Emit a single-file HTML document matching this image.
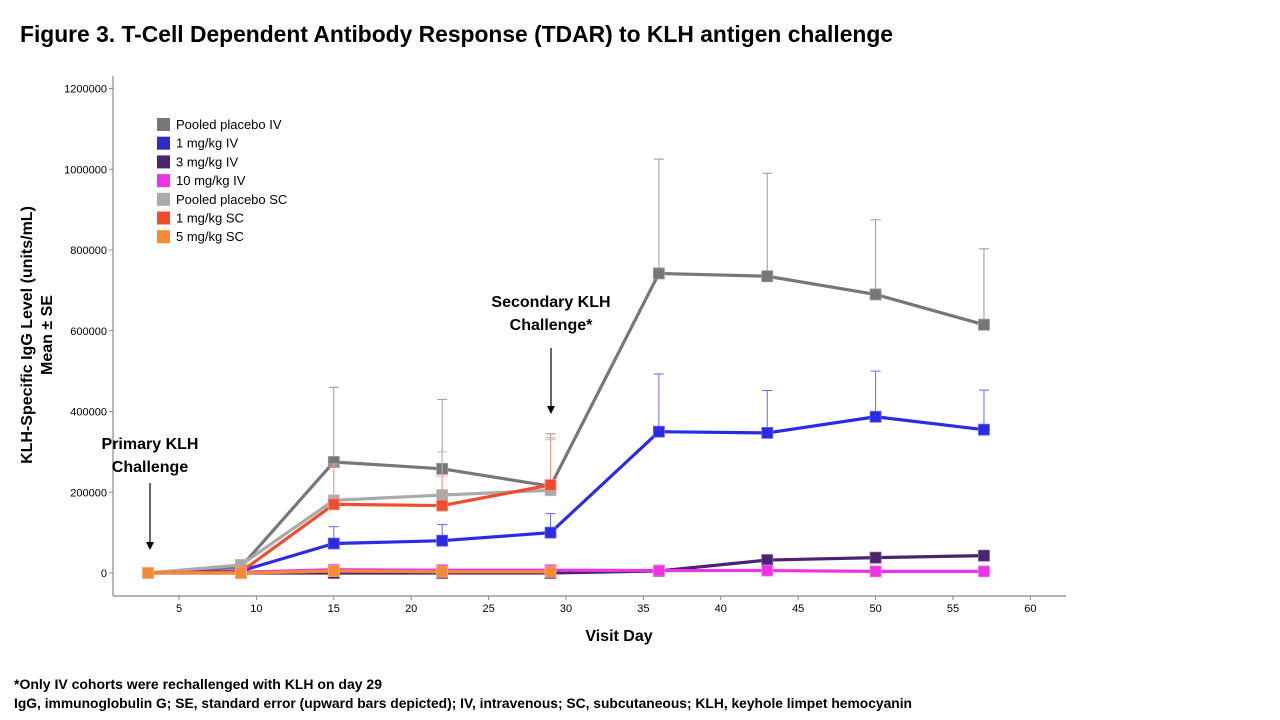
<!DOCTYPE html>
<html><head><meta charset="utf-8"><style>
body{margin:0;background:#fff}
svg{display:block;font-family:"Liberation Sans Narrow","Liberation Sans",sans-serif}
</style></head><body>
<svg id="chart" width="1280" height="720" viewBox="0 0 1280 720" xmlns="http://www.w3.org/2000/svg">
<text x="20" y="42" font-size="23" font-weight="bold" font-family="Liberation Sans, sans-serif" textLength="873" lengthAdjust="spacingAndGlyphs">Figure 3. T-Cell Dependent Antibody Response (TDAR) to KLH antigen challenge</text>
<g id="grid"></g>
<g id="axes"></g>
<g id="series"></g>
<g id="legend"></g>
<text transform="translate(32,335) rotate(-90)" text-anchor="middle" font-size="16" font-weight="bold">KLH-Specific IgG Level (units/mL)</text>
<text transform="translate(52,335) rotate(-90)" text-anchor="middle" font-size="16" font-weight="bold">Mean ± SE</text>
<text x="619" y="641" text-anchor="middle" font-size="16" font-weight="bold">Visit Day</text>
<text x="150" y="449" text-anchor="middle" font-size="16" font-weight="bold">Primary KLH</text>
<text x="150" y="472" text-anchor="middle" font-size="16" font-weight="bold">Challenge</text>
<line x1="150" y1="483" x2="150" y2="543" stroke="#000" stroke-width="1.2"/>
<polygon points="146,542 154,542 150,550" fill="#000"/>
<text x="551" y="307" text-anchor="middle" font-size="16" font-weight="bold">Secondary KLH</text>
<text x="551" y="330" text-anchor="middle" font-size="16" font-weight="bold">Challenge*</text>
<line x1="551" y1="348" x2="551" y2="407" stroke="#000" stroke-width="1.2"/>
<polygon points="547,406 555,406 551,414" fill="#000"/>
<text x="14" y="689" font-size="14" font-weight="bold" textLength="368" lengthAdjust="spacingAndGlyphs">*Only IV cohorts were rechallenged with KLH on day 29</text>
<text x="14" y="708" font-size="14" font-weight="bold" textLength="898" lengthAdjust="spacingAndGlyphs">IgG, immunoglobulin G; SE, standard error (upward bars depicted); IV, intravenous; SC, subcutaneous; KLH, keyhole limpet hemocyanin</text>
</svg>
<script>
const days = [3, 9, 15, 22, 29, 36, 43, 50, 57];
const scDays = [3, 9, 15, 22, 29];
const xTicks = [5, 10, 15, 20, 25, 30, 35, 40, 45, 50, 55, 60];
const yTicks = [0, 200000, 400000, 600000, 800000, 1000000, 1200000];
const yTickLabels = ["0", "200000", "400000", "600000", "800000", "1000000", "1200000"];
const seriesNames = ["Pooled placebo IV", "1 mg/kg IV", "3 mg/kg IV", "10 mg/kg IV", "Pooled placebo SC", "1 mg/kg SC", "5 mg/kg SC"];
const placeboIV = [0, 15000, 275000, 258000, 215000, 742000, 735000, 690000, 615000];
const placeboIVErr = [0, 22000, 460000, 430000, 345000, 1025000, 990000, 875000, 803000];
const iv1 = [0, 5000, 73000, 80000, 100000, 350000, 347000, 387000, 355000];
const iv1Err = [0, 5000, 115000, 120000, 147000, 493000, 452000, 500000, 453000];
const iv3 = [0, 0, 0, 0, 0, 5000, 32000, 38000, 43000];
const iv3Err = [0, 0, 0, 0, 0, 5000, 40000, 45000, 52000];
const iv10 = [0, 2000, 8000, 7000, 7000, 6000, 6000, 4000, 4000];
const iv10Err = [0, 2000, 8000, 7000, 7000, 6000, 6000, 4000, 4000];
const placeboSC = [0, 20000, 180000, 193000, 205000];
const placeboSCErr = [0, 25000, 270000, 300000, 330000];
const sc1 = [0, 3000, 170000, 167000, 218000];
const sc1Err = [0, 3000, 265000, 240000, 335000];
const sc5 = [0, 0, 5000, 3000, 3000];
const sc5Err = [0, 0, 5000, 3000, 3000];

const NS = "http://www.w3.org/2000/svg";
const X0 = 101.6, XS = 15.48, Y0 = 573, YS = 80.75 / 200000;
const xS = d => X0 + d * XS;
const yS = v => Y0 - v * YS;
function mk(tag, attrs, parent) {
  const e = document.createElementNS(NS, tag);
  for (const k in attrs) e.setAttribute(k, attrs[k]);
  parent.appendChild(e);
  return e;
}
const axes = document.getElementById('axes');
let yl = mk('line', {x1: 113, y1: 76, x2: 113, y2: 596, stroke: '#888', 'stroke-width': 1.2}, axes);


let xl = mk('line', {x1: 113, y1: 596, x2: 1066, y2: 596, stroke: '#888', 'stroke-width': 1.2}, axes);


yTicks.forEach((v, i) => {
  const y = yS(v);
  const t = mk('line', {x1: 109, y1: y, x2: 113, y2: y, stroke: '#888'}, axes);
  
  
  const tx = mk('text', {x: 107, y: y + 4, 'text-anchor': 'end', 'font-size': 11}, axes);
  
  
  tx.textContent = yTickLabels[i];
});
xTicks.forEach(d => {
  const x = xS(d);
  const t = mk('line', {x1: x, y1: 596, x2: x, y2: 600, stroke: '#888'}, axes);
  
  
  const tx = mk('text', {x: x, y: 612, 'text-anchor': 'middle', 'font-size': 11}, axes);
  
  
  tx.textContent = d;
});
const seriesData = [
  [days, placeboIV, placeboIVErr, '#777777', '#999'],
  [days, iv1, iv1Err, '#2b2be6', '#6a6af0'],
  [days, iv3, iv3Err, '#4b2470', '#7a5a99'],
  [days, iv10, iv10Err, '#ee33e6', '#f080f0'],
  [scDays, placeboSC, placeboSCErr, '#aaaaaa', '#bbb'],
  [scDays, sc1, sc1Err, '#f24c2e', '#f59a8a'],
  [scDays, sc5, sc5Err, '#f58a35', '#f5b080']
];
const sg = document.getElementById('series');
const drawOrder = [0, 1, 2, 3, 4, 5, 6];
drawOrder.forEach(si => {
  const [xs, vals, errs, col, ecol] = seriesData[si];
  const g = mk('g', {}, sg);
  
  
  xs.forEach((d, i) => {
    if (errs[i] > vals[i] + 1000) {
      const x = xS(d);
      const eb = mk('path', {d: `M${x},${yS(vals[i])}V${yS(errs[i])}M${x - 5},${yS(errs[i])}H${x + 5}`, stroke: ecol, 'stroke-width': 1, fill: 'none'}, g);
      
      
    }
  });
  const pts = xs.map((d, i) => xS(d) + ',' + yS(vals[i])).join(' ');
  const pl = mk('polyline', {points: pts, fill: 'none', stroke: col, 'stroke-width': 3.2, 'stroke-linejoin': 'round'}, g);
  
  
  xs.forEach((d, i) => {
    const r = mk('rect', {x: xS(d) - 5.5, y: yS(vals[i]) - 5.5, width: 11, height: 11, fill: col, stroke: ecol, 'stroke-width': 0.8}, g);
    
    
  });
});
const lg = document.getElementById('legend');
const legendCols = ['#777777', '#2b2bc8', '#4b2470', '#ee33e6', '#aaaaaa', '#f24c2e', '#f58a35'];
seriesNames.forEach((n, i) => {
  const y = 118 + i * 18.7;
  const r = mk('rect', {x: 157, y: y, width: 13, height: 13, fill: legendCols[i]}, lg);
  
  
  const t = mk('text', {x: 176, y: y + 11, 'font-size': 13, 'font-family': 'Liberation Sans, sans-serif'}, lg);
  
  
  t.textContent = n;
});
</script>
</body></html>
